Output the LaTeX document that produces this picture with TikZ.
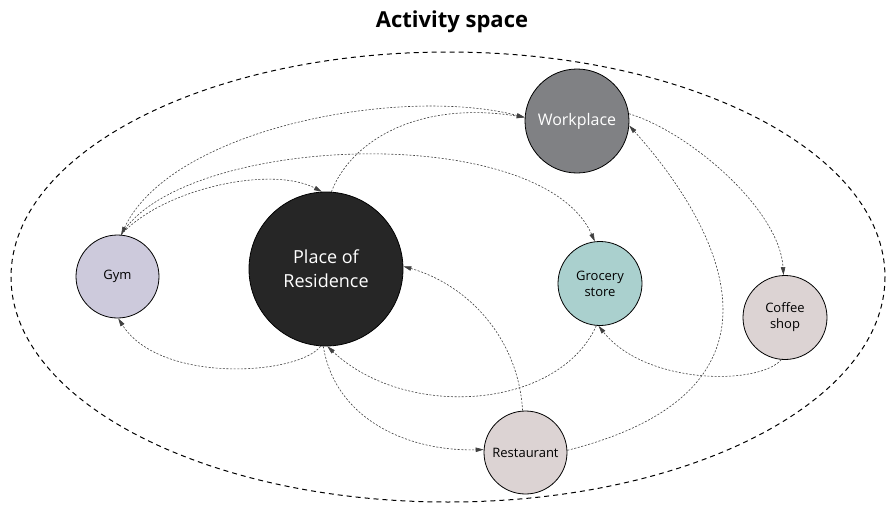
\documentclass[tikz,border=0pt]{standalone}
\usepackage{fontspec}
\setmainfont{Open Sans}
\usetikzlibrary{arrows.meta}
\definecolor{workc}{HTML}{808184}
\definecolor{resc}{HTML}{262626}
\definecolor{gymc}{HTML}{CDCADC}
\definecolor{grocc}{HTML}{AAD0CE}
\definecolor{pinkc}{HTML}{DCD3D3}
\definecolor{linkc}{HTML}{404040}
\tikzset{
  place/.style={circle, draw=black, line width=0.8pt, inner sep=0pt, align=center, font=\fontsize{13}{16}\selectfont},
  link/.style={draw=linkc, line width=0.6pt, dash pattern=on 2pt off 1.6pt},
  tip/.style={-{Triangle[length=8pt,width=4.5pt]}},
  btip/.style={{Triangle[length=8pt,width=4.5pt]}-{Triangle[length=8pt,width=4.5pt]}},
  outer/.style={draw=black, line width=1pt, dash pattern=on 5pt off 4pt}
}
\begin{document}
\begin{tikzpicture}[x=1pt,y=-1pt]
\useasboundingbox (0,0) rectangle (887,514);
\draw[outer] (448,277) ellipse [x radius=437, y radius=225];
\node[font=\fontsize{22}{26}\selectfont\bfseries] (title) at (452,22) {Activity space};

\node[place, fill=workc, minimum size=104pt, text=white, font=\fontsize{16}{19}\selectfont] (work) at (577,121) {Workplace};
\node[place, fill=resc, minimum size=154pt, text=white, font=\fontsize{18}{24}\selectfont] (res) at (326,269) {Place of\\Residence};
\node[place, fill=gymc, minimum size=83pt] (gym) at (117.5,276.5) {Gym};
\node[place, fill=grocc, minimum size=84pt] (groc) at (600,283.5) {Grocery\\store};
\node[place, fill=pinkc, minimum size=84pt] (coffee) at (785,317.5) {Coffee\\shop};
\node[place, fill=pinkc, minimum size=83pt] (rest) at (525.5,452.5) {Restaurant};

% from gym top
\draw[link, btip] (gym.85) .. controls +(50,-106) and +(-125,-32) .. (work.176);
\draw[link, tip] (gym.85) .. controls +(40,-45) and +(-52,-27) .. (res.93);
\draw[link, tip] (gym.85) .. controls +(60,-100) and +(-55,-122) .. (groc.97);
% residence to workplace
\draw[link, tip] (res.86) .. controls +(20,-52) and +(-105,-17) .. (work.176);
% workplace to coffee
\draw[link, tip] (work.8) .. controls +(60,18) and +(-4,-66) .. (coffee.92);
% restaurant to workplace
\draw[link, tip] (rest.3) .. controls +(278,-70) and +(45,50) .. (work.355);
% coffee to grocery
\draw[link, tip] (coffee.265) .. controls +(-23,26) and +(47,59) .. (groc.268);
% grocery to residence
\draw[link, tip] (groc.265) .. controls +(-38,84) and +(79,74) .. (res.271);
% residence to gym
\draw[link, tip] (res.266) .. controls +(-22,29) and +(42,66) .. (gym.271);
% residence to restaurant
\draw[link, tip] (res.268) .. controls +(12,74) and +(-74,2) .. (rest.176);
% restaurant to residence
\draw[link, tip] (rest.94) .. controls +(-4,-71) and +(66,19) .. (res.2);
\end{tikzpicture}
\end{document}
